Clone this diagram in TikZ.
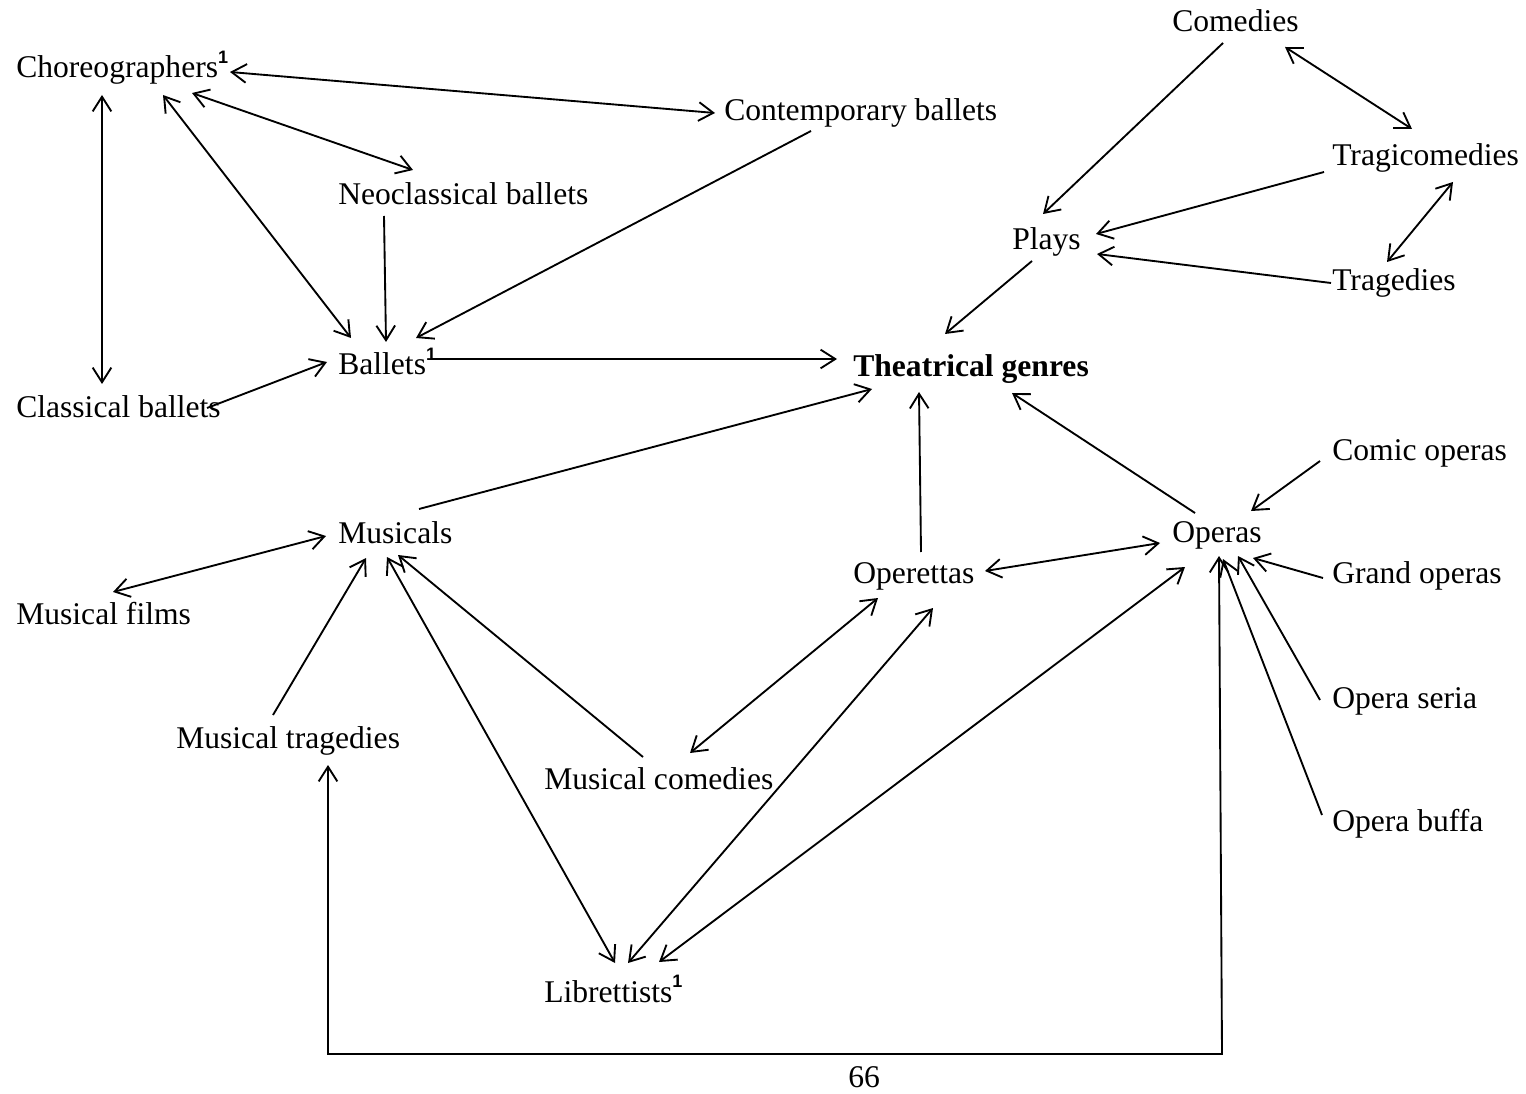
\documentclass[tikz,border=0pt]{standalone}
\usepackage{fontspec}
\setmainfont{Liberation Serif}
\setsansfont{Liberation Sans}
\usetikzlibrary{arrows.meta}
\newcommand{\fnmark}{\raisebox{11pt}{\fontsize{13.5}{13.5}\selectfont\sffamily\bfseries 1}}
\tikzset{
  genre/.style={anchor=base west,inner sep=0pt,font=\fontsize{23.7}{28}\selectfont},
  link/.style={line width=1.4pt,>={Straight Barb[length=11pt,width=14pt]}}
}

\begin{document}
\begin{tikzpicture}[x=0.75pt,y=-0.75pt]
  \useasboundingbox (0,0) rectangle (1526,1094);
  % ballet side
  \node[genre] (chor) at (16,78) {Choreographers\fnmark};
  \node[genre] (cont) at (724,121) {Contemporary ballets};
  \node[genre] (neo) at (338,205) {Neoclassical ballets};
  \node[genre] (ballets) at (338,375) {Ballets\fnmark};
  \node[genre] (classical) at (16,417) {Classical ballets};
  % plays
  \node[genre] (comedies) at (1172,32) {Comedies};
  \node[genre] (tragicom) at (1332,166) {Tragicomedies};
  \node[genre] (plays) at (1012,250) {Plays};
  \node[genre] (tragedies) at (1332,291) {Tragedies};
  \node[genre,font=\fontsize{23.7}{28}\selectfont\bfseries] (genres) at (853,377) {Theatrical genres};
  % operas
  \node[genre] (comic) at (1332,460) {Comic operas};
  \node[genre] (operas) at (1172,542) {Operas};
  \node[genre] (operettas) at (853,583) {Operettas};
  \node[genre] (grand) at (1332,583) {Grand operas};
  \node[genre] (seria) at (1332,708) {Opera seria};
  \node[genre] (buffa) at (1332,831) {Opera buffa};
  % musicals
  \node[genre] (musicals) at (338,543) {Musicals};
  \node[genre] (films) at (16,624) {Musical films};
  \node[genre] (mtrag) at (176,748) {Musical tragedies};
  \node[genre] (mcom) at (544,789) {Musical comedies};
  \node[genre] (libr) at (544,1002) {Librettists\fnmark};
  \node[genre] (page) at (848,1087) {66};

  \path[link,<->]
    ([shift={(214,-6)}]chor.base west) edge ([shift={(-9,-8)}]cont.base west)
    ([shift={(176,15)}]chor.base west) edge ([shift={(75,-35)}]neo.base west)
    ([shift={(147,17)}]chor.base west) edge ([shift={(13,-37)}]ballets.base west)
    ([shift={(86,17)}]chor.base west) edge ([shift={(86,-33)}]classical.base west)
    ([shift={(113,15)}]comedies.base west) edge ([shift={(80,-37)}]tragicom.base west)
    ([shift={(121,16)}]tragicom.base west) edge ([shift={(55,-29)}]tragedies.base west)
    ([shift={(132,-12)}]operettas.base west) edge ([shift={(-12,1)}]operas.base west)
    ([shift={(97,-32)}]films.base west) edge ([shift={(-12,-7)}]musicals.base west)
    ([shift={(49,14)}]musicals.base west) edge ([shift={(71,-39)}]libr.base west)
    ([shift={(146,-36)}]mcom.base west) edge ([shift={(25,15)}]operettas.base west)
    ([shift={(80,25)}]operettas.base west) edge ([shift={(84,-39)}]libr.base west)
    ([shift={(13,25)}]operas.base west) edge ([shift={(115,-40)}]libr.base west);

  \path[link,->]
    ([shift={(46,11)}]neo.base west) edge ([shift={(48,-33)}]ballets.base west)
    ([shift={(87,10)}]cont.base west) edge ([shift={(78,-37)}]ballets.base west)
    ([shift={(191,-9)}]classical.base west) edge ([shift={(-11,-13)}]ballets.base west)
    ([shift={(94,-16)}]ballets.base west) edge ([shift={(-16,-18)}]genres.base west)
    ([shift={(51,11)}]comedies.base west) edge ([shift={(31,-36)}]plays.base west)
    ([shift={(-8,6)}]tragicom.base west) edge ([shift={(84,-16)}]plays.base west)
    ([shift={(-1,-8)}]tragedies.base west) edge ([shift={(85,4)}]plays.base west)
    ([shift={(20,11)}]plays.base west) edge ([shift={(92,-43)}]genres.base west)
    ([shift={(81,-34)}]musicals.base west) edge ([shift={(19,12)}]genres.base west)
    ([shift={(68,-31)}]operettas.base west) edge ([shift={(66,15)}]genres.base west)
    ([shift={(23,-29)}]operas.base west) edge ([shift={(159,16)}]genres.base west)
    ([shift={(-12,1)}]comic.base west) edge ([shift={(79,-31)}]operas.base west)
    ([shift={(-9,-5)}]grand.base west) edge ([shift={(81,16)}]operas.base west)
    ([shift={(-12,-8)}]seria.base west) edge ([shift={(66,14)}]operas.base west)
    ([shift={(-10,-16)}]buffa.base west) edge ([shift={(51,17)}]operas.base west)
    ([shift={(97,-33)}]mtrag.base west) edge ([shift={(28,15)}]musicals.base west)
    ([shift={(99,-32)}]mcom.base west) edge ([shift={(60,12)}]musicals.base west);

  % long way round under the page
  \draw[link,<->] ([shift={(47,14)}]operas.base west) -- ++(3,498) -| ([shift={(152,17)}]mtrag.base west);
\end{tikzpicture}
\end{document}
